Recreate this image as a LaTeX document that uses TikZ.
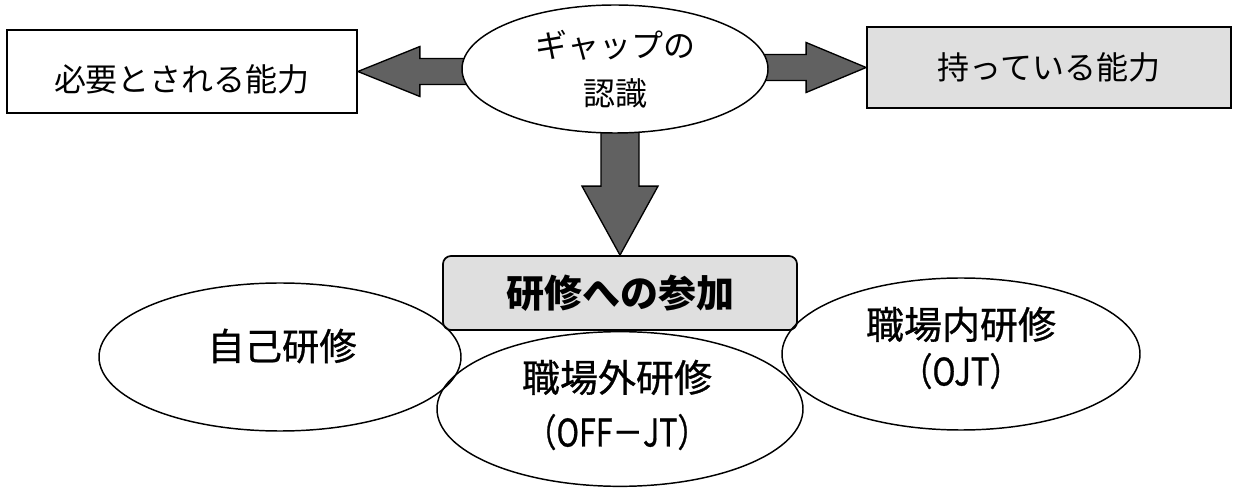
\documentclass[tikz,border=0pt]{standalone}
\usepackage{fontspec}
\usepackage{graphicx}
\newfontfamily\jp{Noto Sans CJK JP}
\newfontfamily\jpm{Noto Sans CJK JP}[FakeBold=0.8]
\usetikzlibrary{shapes.geometric,backgrounds,calc}
\begin{document}
\begin{tikzpicture}[x=0.75pt,y=-0.75pt,
  box/.style={draw,line width=1.3pt,rectangle,inner sep=0pt,font=\jp\fontsize{24}{30}\selectfont},
  oval/.style={draw,line width=1.1pt,ellipse,inner sep=0pt},
  txt/.style={inner sep=0pt,align=center},
  blk/.style={draw=black,line width=1pt,fill=black!62,line join=miter},
  shade/.style={fill=gray!25}
]
\useasboundingbox (0,0) rectangle (1233,488);
% top row
\node[box,minimum width=262.5pt,minimum height=62.25pt,text height=18pt,text depth=0pt] (need) at (182,71.5) {\raisebox{-6pt}{必要とされる能力}};
\node[oval,fill=white,minimum width=229.5pt,minimum height=96pt,align=center,
      font=\jp\fontsize{24}{36}\selectfont] (gap) at (615,69) {ギャップの\\認識};
\node[box,shade,minimum width=273pt,minimum height=60.75pt] (have) at (1049,67.5) {持っている能力};
% bottom
\node[draw,line width=1.3pt,rounded corners=6pt,shade,inner sep=0pt,
      minimum width=265.5pt,minimum height=55.5pt,
      font=\jp\bfseries\fontsize{28.5}{34}\selectfont] (part) at (620,293) {研修への参加};
\node[oval,minimum width=271.5pt,minimum height=111pt] (self) at (280,357) {};
\node[oval,minimum width=274.5pt,minimum height=116pt] (off) at (620,409) {};
\node[oval,minimum width=268.5pt,minimum height=114pt] (ojt) at (961,354) {};
\node[txt,font=\jpm\fontsize{28}{34}\selectfont] (selft) at ($(self.center)+(2,-11)$) {自己研修};
\node[txt,font=\jpm\fontsize{28.5}{41}\selectfont] (offt) at ($(off.center)+(-3,-4)$)
  {職場外研修\\\scalebox{0.8}[1]{（OFF－JT）}};
\node[txt,font=\jpm\fontsize{28.5}{35}\selectfont] (ojtt) at ($(ojt.center)+(0,-6)$)
  {職場内研修\\\scalebox{0.82}[1]{（OJT）}};
% block arrows
\begin{pgfonlayer}{background}
  \coordinate (lt) at (need.east);
  \path (gap.west |- need.east) coordinate (ls);
  \filldraw[blk] ($(ls)+(12,-13)$) -- ($(lt)+(62,-13)$) -- ($(lt)+(62,-25)$) -- (lt)
     -- ($(lt)+(62,25)$) -- ($(lt)+(62,13)$) -- ($(ls)+(12,13)$) -- cycle;
  \coordinate (rt) at (have.west);
  \path (gap.east |- have.west) coordinate (rs);
  \filldraw[blk] ($(rs)+(-12,-13)$) -- ($(rt)+(-60,-13)$) -- ($(rt)+(-60,-25)$) -- (rt)
     -- ($(rt)+(-60,25)$) -- ($(rt)+(-60,13)$) -- ($(rs)+(-12,13)$) -- cycle;
  \coordinate (dt) at (part.north);
  \path (part.north |- gap.south) coordinate (ds);
  \filldraw[blk] ($(ds)+(-19,-12)$) -- ($(dt)+(-19,-69)$) -- ($(dt)+(-38,-69)$) -- (dt)
     -- ($(dt)+(38,-69)$) -- ($(dt)+(19,-69)$) -- ($(ds)+(19,-12)$) -- cycle;
\end{pgfonlayer}
\end{tikzpicture}
\end{document}
